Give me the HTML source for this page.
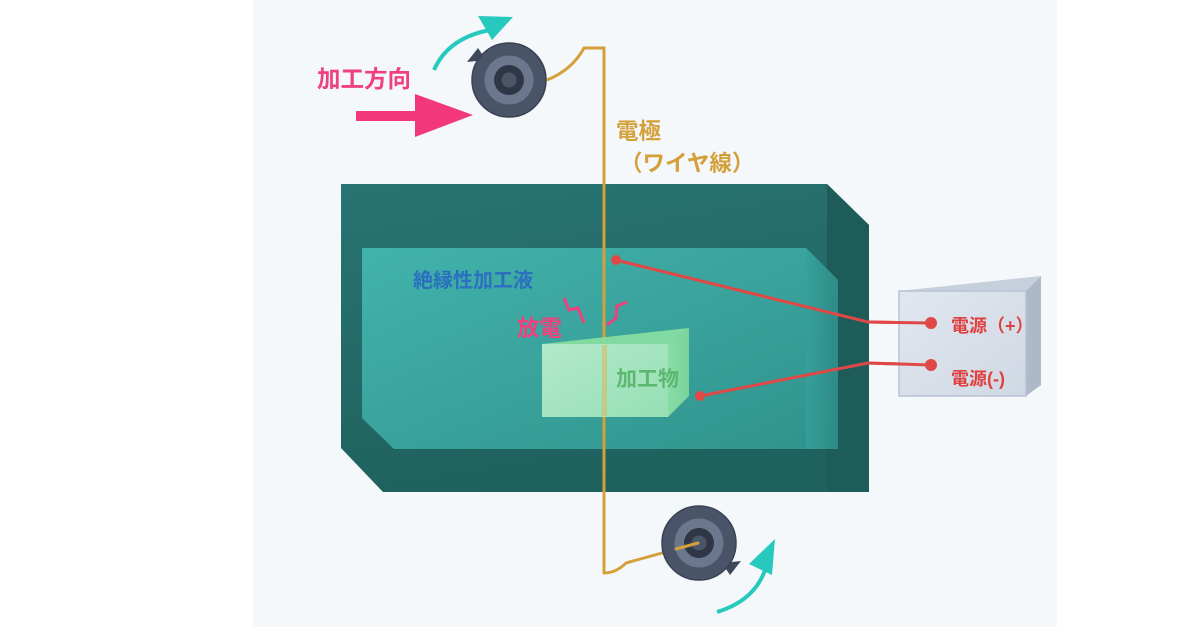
<!DOCTYPE html>
<html><head><meta charset="utf-8">
<style>
html,body{margin:0;padding:0;background:#fff;width:1200px;height:630px;overflow:hidden}
svg{display:block}
text{font-family:"Liberation Sans","Noto Sans CJK JP",sans-serif;font-weight:700}
</style></head>
<body>
<svg width="1200" height="630" viewBox="0 0 1200 630" xmlns="http://www.w3.org/2000/svg">
<defs>
<linearGradient id="tank" x1="0" y1="0" x2="0.3" y2="1">
<stop offset="0" stop-color="#287472"/><stop offset="1" stop-color="#1f615e"/>
</linearGradient>
<linearGradient id="liq" x1="0" y1="0" x2="1" y2="1">
<stop offset="0" stop-color="#41b3ab"/><stop offset="1" stop-color="#31928d"/>
</linearGradient>
<linearGradient id="liqside" x1="0" y1="0" x2="1" y2="0">
<stop offset="0" stop-color="#36a09a"/><stop offset="1" stop-color="#2d8884"/>
</linearGradient>
<linearGradient id="wpf" x1="0" y1="0" x2="1" y2="1">
<stop offset="0" stop-color="#c2f3d0"/><stop offset="1" stop-color="#a4e8b8"/>
</linearGradient>
<linearGradient id="wps" x1="0" y1="0" x2="1" y2="0">
<stop offset="0" stop-color="#90e2a8"/><stop offset="1" stop-color="#7fd89a"/>
</linearGradient>
<linearGradient id="box" x1="0" y1="0" x2="1" y2="1">
<stop offset="0" stop-color="#e1e7ef"/><stop offset="1" stop-color="#d0d8e3"/>
</linearGradient>
</defs>

<rect x="253" y="0" width="804" height="627" fill="#f5f8fb"/>

<!-- outer tank -->
<polygon points="341,184 827,184 869,225 869,492 383,492 341,448" fill="url(#tank)"/>
<polygon points="827,184 869,225 869,492 827,492" fill="#1d5c59"/>
<!-- liquid -->
<polygon points="362,248 806,248 838,280 838,449 394,449 362,418" fill="url(#liq)"/>
<polygon points="806,248 838,280 838,449 806,449" fill="url(#liqside)" opacity="0.85"/>

<!-- wire -->
<path d="M604,573 L604,48 L584,48 Q572,70 547,80" fill="none" stroke="#d4a03a" stroke-width="3"/>
<path d="M604,573 Q616,573 626,563 L698,543" fill="none" stroke="#d4a03a" stroke-width="3" stroke-linecap="round"/>

<!-- workpiece -->
<polygon points="542,344 689,328 668,344" fill="#88dea0" opacity="0.92"/>
<polygon points="668,344 689,328 689,396 668,417" fill="url(#wps)" opacity="0.92"/>
<rect x="542" y="344" width="126" height="73" fill="url(#wpf)" opacity="0.88"/>
<rect x="602" y="345" width="5" height="71" fill="#d4b050" opacity="0.45"/>

<!-- sparks -->
<polyline points="564,298 569,310 578,308 584,323" fill="none" stroke="#f0407e" stroke-width="3"/>
<polyline points="627,302 617,306 616,318 607,325" fill="none" stroke="#f0407e" stroke-width="3"/>

<!-- red lines -->
<polyline points="616,260 868,322 930,323" fill="none" stroke="#e04848" stroke-width="3"/>
<polyline points="700,396 868,363 930,365" fill="none" stroke="#e04848" stroke-width="3"/>
<circle cx="616" cy="260" r="5" fill="#e04848"/>
<circle cx="700" cy="396" r="5" fill="#e04848"/>

<!-- power box -->
<polygon points="899,291 1041,276 1026,291" fill="#c6d0dc"/>
<polygon points="1026,291 1041,276 1041,385 1026,396" fill="#adb9c9"/>
<rect x="899" y="291" width="127" height="105" fill="url(#box)" stroke="#b8c3d1" stroke-width="1.5"/>
<polyline points="868,322 930,323" fill="none" stroke="#e04848" stroke-width="3"/>
<polyline points="868,363 930,365" fill="none" stroke="#e04848" stroke-width="3"/>
<circle cx="931" cy="323" r="6" fill="#e04848"/>
<circle cx="931" cy="365" r="6" fill="#e04848"/>
<text x="951" y="332" font-size="18" fill="#e04040">電源（+）</text>
<text x="951" y="385" font-size="18" fill="#e04040">電源(-)</text>

<!-- top roller -->
<polygon points="467,62 478,48 486,60" fill="#3f475a"/>
<circle cx="509" cy="80" r="37" fill="#4a5468" stroke="#3a4254" stroke-width="1.5"/>
<circle cx="509" cy="80" r="24.5" fill="#6b778c"/>
<circle cx="509" cy="80" r="15" fill="#2f3747"/>
<circle cx="509" cy="80" r="7.5" fill="#4b5568"/>

<!-- bottom roller -->
<polygon points="741,561 730,575 722,563" fill="#3f475a"/>
<circle cx="699" cy="543" r="37" fill="#4a5468" stroke="#3a4254" stroke-width="1.5"/>
<circle cx="699" cy="543" r="24.5" fill="#6b778c"/>
<circle cx="699" cy="543" r="15" fill="#2f3747"/>
<circle cx="699" cy="543" r="7.5" fill="#4b5568"/>
<path d="M698,543 L676,549" stroke="#d4a03a" stroke-width="3" stroke-linecap="round"/>

<!-- teal arrows -->
<path d="M434,70 Q448,38 490,30" fill="none" stroke="#27c9be" stroke-width="4"/>
<polygon points="478,16 513,17 492,40" fill="#27c9be"/>
<path d="M717,612 Q756,600 766,567" fill="none" stroke="#27c9be" stroke-width="4"/>
<polygon points="775,539 749,564 772,575" fill="#27c9be"/>

<!-- pink arrow -->
<rect x="356" y="111" width="62" height="10" fill="#f2387a"/>
<polygon points="415,94 473,115 415,137" fill="#f2387a"/>

<!-- labels -->
<text x="317" y="87" font-size="23.5" fill="#f0407e">加工方向</text>
<text x="616" y="139" font-size="22.5" fill="#d4a03a">電極</text>
<text x="620" y="171" font-size="22.5" fill="#d4a03a">（ワイヤ線）</text>
<text x="413" y="287" font-size="20" fill="#2b6fc0">絶縁性加工液</text>
<text x="517" y="336" font-size="22.5" fill="#f0407e">放電</text>
<text x="616" y="386" font-size="21" fill="#5cb870">加工物</text>
</svg>
</body></html>
